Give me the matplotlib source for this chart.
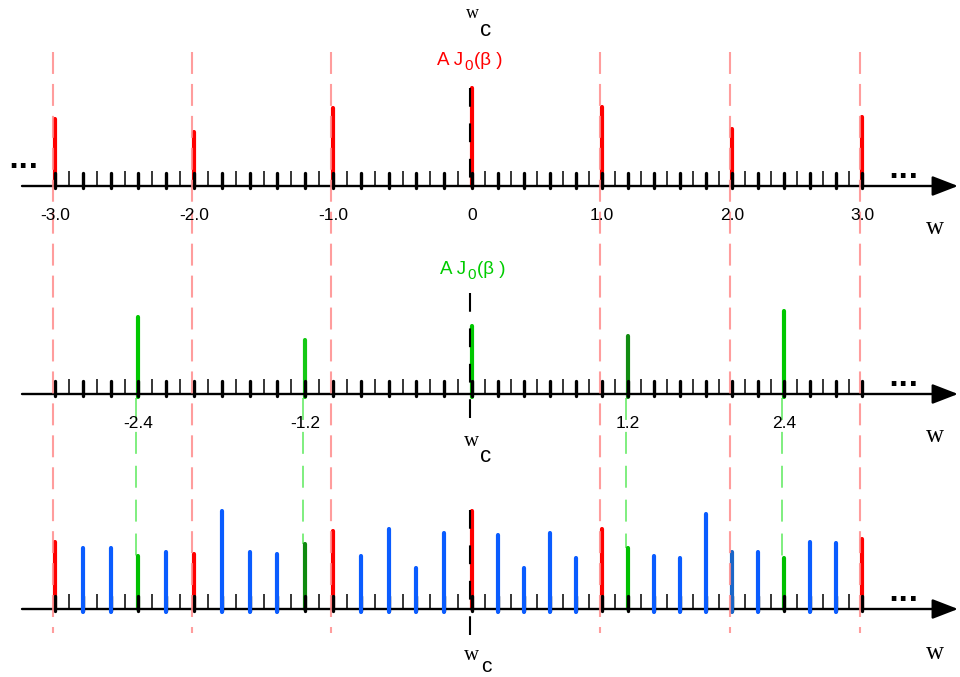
import numpy as np
import matplotlib
matplotlib.use("Agg")
import matplotlib.pyplot as plt
from matplotlib.transforms import ScaledTranslation

plt.rcParams["lines.scale_dashes"] = False

# ---- spectrum 1: carrier and sidebands at integer offsets -------------------
red_w = [-3.0, -2.0, -1.0, 0.0, 1.0, 2.0, 3.0]
red_amp = [0.67, 0.54, 0.78, 0.98, 0.79, 0.57, 0.69]
red_tick_text = ["-3.0", "-2.0", "-1.0", "0", "1.0", "2.0", "3.0"]

# ---- spectrum 2: sidebands every 1.2 ---------------------------------------
green_w = [-2.4, -1.2, 0.0, 1.2, 2.4]
green_amp = [0.77, 0.54, 0.68, 0.58, 0.83]
green_colors = ["#00c800", "#14c814", "#00c800", "#128c12", "#00c800"]
green_tick_w = [-2.4, -1.2, 1.2, 2.4]
green_tick_text = ["-2.4", "-1.2", "1.2", "2.4"]

# ---- combined spectrum on a 0.2 grid ----------------------------------------
comb_w = [-3.0, -2.8, -2.6, -2.4, -2.2, -2.0, -1.8, -1.6, -1.4, -1.2, -1.0,
          -0.8, -0.6, -0.4, -0.2, 0.0, 0.2, 0.4, 0.6, 0.8, 1.0,
          1.2, 1.4, 1.6, 1.8, 2.0, 2.2, 2.4, 2.6, 2.8, 3.0]
comb_amp = [0.67, 0.61, 0.61, 0.53, 0.57, 0.55, 0.98, 0.57, 0.55, 0.65, 0.78,
            0.53, 0.80, 0.41, 0.76, 0.98, 0.74, 0.41, 0.76, 0.51, 0.80,
            0.61, 0.53, 0.51, 0.95, 0.57, 0.57, 0.51, 0.67, 0.66, 0.70]
R, B, G, DG, DB = "#ff0000", "#0a5cff", "#00c000", "#0f8a0f", "#1a66c8"
comb_colors = [R, B, B, G, B, R, B, B, B, DG, R,
               B, B, B, B, R, B, B, B, B, R,
               G, B, B, B, DB, B, G, B, B, R]

# frequency axis: slightly different pixel pitch left and right of the carrier
PX_NEG, PX_POS = 139.0, 130.0


def fwd(w):
    w = np.asarray(w, dtype=float)
    return np.where(w < 0, w * PX_NEG, w * PX_POS)


def inv(p):
    p = np.asarray(p, dtype=float)
    return np.where(p < 0, p / PX_NEG, p / PX_POS)


W, H = 960, 677
fig = plt.figure(figsize=(W / 100, H / 100), dpi=100)
ax = fig.add_axes([0, 0, 1, 1])
ax.set_xscale("function", functions=(fwd, inv))
ax.set_xlim(-472 / PX_NEG, 488 / PX_POS)
ax.set_ylim(H, 0)
ax.axis("off")

TOP, MID, BOT = 186, 394, 609   # baselines of the three spectra
UNIT = 100                       # pixels per unit amplitude

major = np.round(np.linspace(-3.0, 3.0, 31), 1)
minor = major[:-1] + 0.1

sans = "Liberation Sans"
serif = "Liberation Serif"
ytrans = ax.get_yaxis_transform()


def px_shift(dx):
    return ax.transData + ScaledTranslation(dx / 100, 0, fig.dpi_scale_trans)


def draw_axis(base):
    ax.vlines(major, base + 1.5, base - 13, colors="black", lw=2.4,
              capstyle="round", zorder=3)
    ax.vlines(minor, base, base - 15, colors="black", lw=1.1, zorder=3)
    ax.annotate("", xy=(958 / W, base), xytext=(22 / W, base),
                xycoords=("axes fraction", "data"),
                textcoords=("axes fraction", "data"),
                arrowprops=dict(arrowstyle="-|>,head_length=0.88,head_width=0.34",
                                mutation_scale=18, lw=1.7, color="black",
                                shrinkA=0, shrinkB=0),
                zorder=3)
    ax.text(888 / W, base - 8, "...", transform=ytrans,
            ha="left", va="baseline", fontsize=19, fontweight="bold",
            family="DejaVu Sans", zorder=6)


for b in (TOP, MID, BOT):
    draw_axis(b)
ax.text(8 / W, TOP - 18, "...", transform=ytrans,
        ha="left", va="baseline", fontsize=19, fontweight="bold",
        family="DejaVu Sans", zorder=6)

# ---- stems -----------------------------------------------------------------
ax.vlines(red_w, TOP, TOP - np.array(red_amp) * UNIT, colors=R, lw=3,
          capstyle="round", zorder=2)
ax.vlines(green_w, MID + 3, MID - np.array(green_amp) * UNIT,
          colors=green_colors, lw=3, capstyle="round", zorder=2)

comb_amp_a = np.array(comb_amp)
is_blue = np.array([c in (B, DB) for c in comb_colors])
cw = np.array(comb_w)
cc = np.array(comb_colors)
ax.vlines(cw[~is_blue], BOT, BOT - comb_amp_a[~is_blue] * UNIT,
          colors=list(cc[~is_blue]), lw=3, capstyle="round", zorder=2)
ax.vlines(cw[is_blue], BOT + 3, BOT - comb_amp_a[is_blue] * UNIT,
          colors=list(cc[is_blue]), lw=3, capstyle="round", zorder=4)

# ---- guide lines -----------------------------------------------------------
pink_t = px_shift(-2.5)
for w in red_w:
    if w == 0:
        continue
    ax.plot([w, w], [52, 633], color="#ff8c8c", alpha=0.85, lw=1.5,
            dashes=(15.8, 7.2), transform=pink_t, zorder=5)

for w in green_tick_w:
    top = BOT - comb_amp[comb_w.index(w)] * UNIT
    ax.plot([w, w], [398, top], color="#5cea5c", lw=1.1,
            dashes=(15.8, 8.6), transform=px_shift(-2), zorder=1)

dash_t = px_shift(-2)
for y0, y1 in ((TOP - red_amp[3] * UNIT, TOP),
               (MID - 101, MID + 31),
               (BOT - 99, BOT + 34)):
    ax.plot([0, 0], [y0, y1], color="black", lw=1.5, dashes=(13.5, 12),
            transform=dash_t, zorder=6)

# ---- tick labels -----------------------------------------------------------
for w, t in zip(red_w, red_tick_text):
    ax.text(w, TOP + 29, t, ha="center", va="center", fontsize=12.5,
            family=sans, zorder=7)
for w, t in zip(green_tick_w, green_tick_text):
    ax.text(w, MID + 29, t, ha="center", va="center", fontsize=12.5,
            family=sans, zorder=7)


# ---- amplitude labels  A J0(beta) -------------------------------------------
def amp_label(x_px, baseline, color):
    t1 = ax.text(x_px / W, baseline, "A J", transform=ytrans, ha="left",
                 va="baseline", fontsize=13.5, family=sans, color=color)
    t2 = ax.annotate("0", xy=(1, 0), xycoords=t1, xytext=(1, -4),
                     textcoords="offset pixels", ha="left", va="bottom",
                     fontsize=11, family=sans, color=color)
    ax.annotate("(β )", xy=(1, 0), xycoords=(t2, t1), xytext=(1, 0),
                textcoords="offset pixels", ha="left", va="bottom",
                fontsize=13.5, family=sans, color=color)


amp_label(437, 65, "#ff0000")
amp_label(440, 274, "#00cc00")

# ---- carrier labels w_c ----------------------------------------------------
c_shift = px_shift(14)
for yw, yc, sw, sc in ((14, 30, 13, 16), (441, 456, 15, 16), (655, 667, 15, 15)):
    ax.text(0, yw, "w", ha="center", va="center", fontsize=sw, family=serif)
    ax.text(0, yc, "c", ha="center", va="center", fontsize=sc, family=sans,
            transform=c_shift)

# ---- axis names ------------------------------------------------------------
for yy in (TOP + 42, MID + 42, BOT + 44):
    ax.text(935 / W, yy, "w", transform=ytrans,
            ha="center", va="center", fontsize=18, family=serif)

fig.savefig("out.png", dpi=100)
